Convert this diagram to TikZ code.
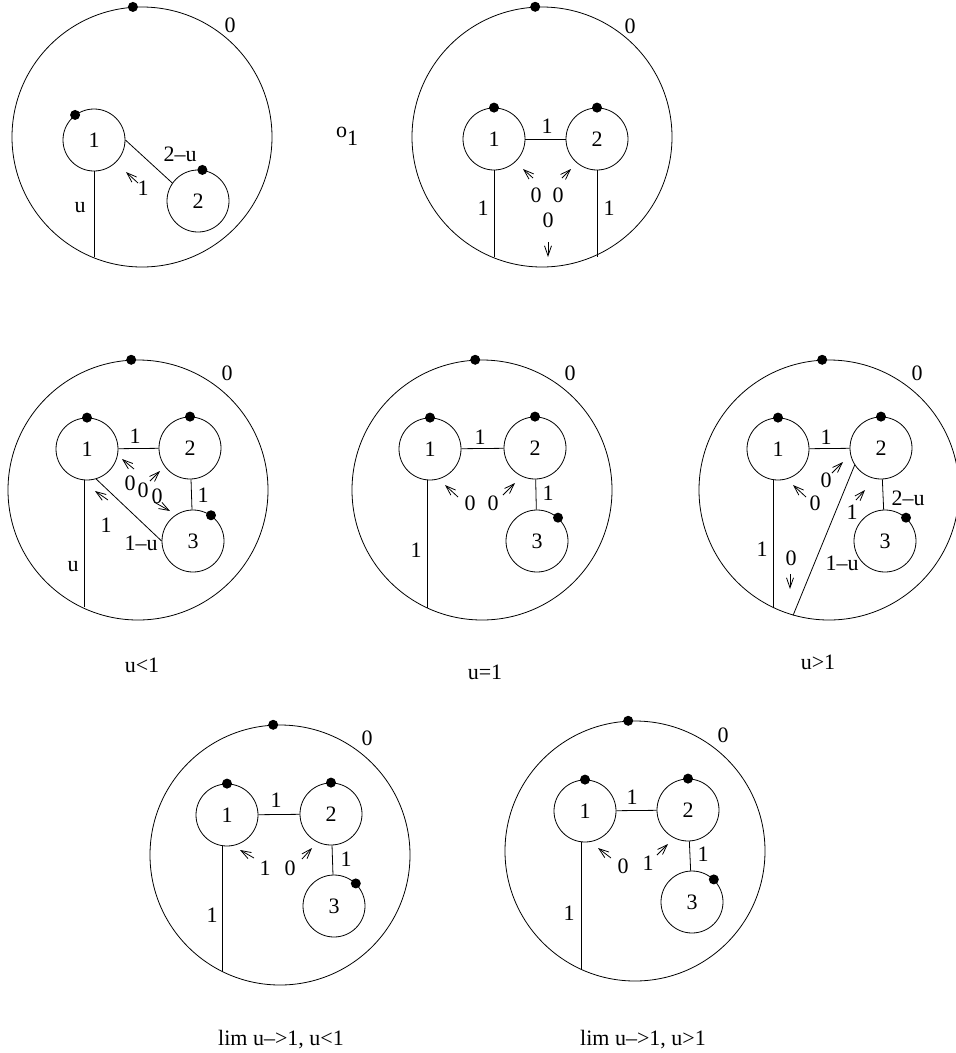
\documentclass[tikz,border=0pt]{standalone}
\usepackage{fontspec}
\setmainfont{Liberation Serif}
\usetikzlibrary{arrows.meta}
\tikzset{
  rim/.style={circle,draw,inner sep=0pt,minimum size=260pt},
  ring/.style={circle,draw,inner sep=0pt,minimum size=62pt},
  dot/.style={circle,fill,inner sep=0pt,minimum size=10pt},
  harrow/.style={-{Straight Barb[length=10pt,width=7pt]}}
}
\begin{document}
\begin{tikzpicture}[x=1pt,y=-1pt,line width=0.8pt,
  every node/.style={font=\fontsize{22}{26}\selectfont}]
			\clip (0,0) rectangle (956,1053);

			% top left
			\node (A) at (142,137)[rim]{};
			\node (A0) at (A.94)[dot]{};
			\node (Al) at (230,25){0};
			\node (a1) at (94,140)[ring]{1};
			\node (a2) at (198,201)[ring]{2};
			\node (a1d) at (a1.127)[dot]{};
			\node (a2d) at (a2.82)[dot]{};
			\draw (a1.east) -- (a2.145);
			\draw (a1.south) -- (a1.south |- A.247);
			\node (au) at (80,208){u};
			\node (a12) at (180,154){2–u};
			\node (aw) at (143,188){1};
			\draw[harrow] (aw) ++(-5,-5) -- ++(-12,-11);

			\node (o1) at (347,136){o\raisebox{-8pt}{1}};

			% top right
			\node (B) at (542,137)[rim]{};
			\node (B0) at (B.93)[dot]{};
			\node (Bl) at (630,26){0};
			\node (b1) at (494,139)[ring]{1};
			\node (b2) at (597,139)[ring]{2};
			\node (b1d) at (b1.90)[dot]{};
			\node (b2d) at (b2.90)[dot]{};
			\draw (b1) -- (b2);
			\draw (b1.south) -- (b1.south |- B.247);
			\draw (b2.south) -- (b2.south |- B.293);
			\node (b12) at (547,126){1};
			\node (bv1) at (483,208){1};
			\node (bv2) at (609,208){1};
			\node (bw1) at (536,195){0};
			\node (bw2) at (558,195){0};
			\node (bw3) at (548,220){0};
			\draw[harrow] (bw1) ++(-3,-17) -- ++(-10,-9);
			\draw[harrow] (bw2) ++(4,-17) -- ++(9,-9);
			\draw[harrow] (bw3) ++(0,22) -- ++(0,15);

			% u<1
			\node (C) at (138,490)[rim]{};
			\node (C0) at (C.93)[dot]{};
			\node (Cl) at (227,373){0};
			\node (c1) at (87,449)[ring]{1};
			\node (c2) at (190,448)[ring]{2};
			\node (c3) at (193,541)[ring]{3};
			\node (c1d) at (c1.90)[dot]{};
			\node (c2d) at (c2.90)[dot]{};
			\node (c3d) at (c3.55)[dot]{};
			\draw (c1) -- (c2);
			\draw (c2) -- (c3);
			\draw (c1.287) -- (c3.180);
			\draw (c1.265) -- (c1.265 |- C.244);
			\node (c12) at (135,436){1};
			\node (c23) at (203,495){1};
			\node (c13) at (141,543){1–u};
			\node (cu) at (73,567){u};
			\node (cw1) at (130,483){0};
			\node (cw2) at (143,490){0};
			\node (cw3) at (157,496){0};
			\node (cw4) at (106,525){1};
			\draw[harrow] (cw1) ++(4,-14) -- ++(-12,-10);
			\draw[harrow] (cw2) ++(7,-9) -- ++(10,-10);
			\draw[harrow] (cw3) ++(-3,6) -- ++(16,9);
			\draw[harrow] (cw4) ++(2,-25) -- ++(-13,-9);
			\node (cc) at (142,665){u<1};

			% u=1
			\node (D) at (482,490)[rim]{};
			\node (D0) at (D.93)[dot]{};
			\node (Dl) at (570,373){0};
			\node (d1) at (430,449)[ring]{1};
			\node (d2) at (535,448)[ring]{2};
			\node (d3) at (537,541)[ring]{3};
			\node (d1d) at (d1.90)[dot]{};
			\node (d2d) at (d2.90)[dot]{};
			\node (d3d) at (d3.48)[dot]{};
			\draw (d1) -- (d2);
			\draw (d2) -- (d3);
			\draw (d1.265) -- (d1.265 |- D.245);
			\node (d12) at (480,437){1};
			\node (d23) at (548,493){1};
			\node (dv) at (416,550){1};
			\node (dw1) at (470,503){0};
			\node (dw2) at (493,503){0};
			\draw[harrow] (dw1) ++(-12,-6) -- ++(-13,-12);
			\draw[harrow] (dw2) ++(10,-8) -- ++(12,-12);
			\node (dc) at (485,672){u=1};

			% u>1
			\node (E) at (829,490)[rim]{};
			\node (E0) at (E.93)[dot]{};
			\node (El) at (917,373){0};
			\node (e1) at (778,449)[ring]{1};
			\node (e2) at (881,448)[ring]{2};
			\node (e3) at (885,541)[ring]{3};
			\node (e1d) at (e1.90)[dot]{};
			\node (e2d) at (e2.90)[dot]{};
			\node (e3d) at (e3.48)[dot]{};
			\draw (e1) -- (e2);
			\draw (e2) -- (e3);
			\draw (e1.262) -- (e1.262 |- E.245);
			\draw (e2.213) -- (E.254);
			\node (e12) at (826,437){1};
			\node (e23) at (908,498){2–u};
			\node (ev) at (762,549){1};
			\node (e13) at (842,563){1–u};
			\node (ew1) at (815,503){0};
			\node (ew2) at (826,480){0};
			\node (ew3) at (852,512){1};
			\node (ew4) at (791,558){0};
			\draw[harrow] (ew1) ++(-9,-6) -- ++(-13,-12);
			\draw[harrow] (ew2) ++(6,-7) -- ++(11,-11);
			\draw[harrow] (ew3) ++(4,-12) -- ++(9,-10);
			\draw[harrow] (ew4) ++(-1,16) -- ++(0,15);
			\node (ec) at (818,662){u>1};

			% lim u->1, u<1
			\node (F) at (280,855)[rim]{};
			\node (F0) at (F.93)[dot]{};
			\node (Fl) at (367,738){0};
			\node (f1) at (227,815)[ring]{1};
			\node (f2) at (331,814)[ring]{2};
			\node (f3) at (334,906)[ring]{3};
			\node (f1d) at (f1.90)[dot]{};
			\node (f2d) at (f2.90)[dot]{};
			\node (f3d) at (f3.46)[dot]{};
			\draw (f1) -- (f2);
			\draw (f2) -- (f3);
			\draw (f1.262) -- (f1.262 |- F.244);
			\node (f12) at (276,800){1};
			\node (f23) at (346,859){1};
			\node (fv) at (212,915){1};
			\node (fw1) at (265,868){1};
			\node (fw2) at (290,868){0};
			\draw[harrow] (fw1) ++(-11,-10) -- ++(-14,-8);
			\draw[harrow] (fw2) ++(12,-9) -- ++(10,-11);
			\node (fc) at (281,1040){lim u–>1, u<1};

			% lim u->1, u>1
			\node (G) at (635,851)[rim]{};
			\node (G0) at (G.93)[dot]{};
			\node (Gl) at (723,735){0};
			\node (g1) at (585,811)[ring]{1};
			\node (g2) at (688,810)[ring]{2};
			\node (g3) at (692,902)[ring]{3};
			\node (g1d) at (g1.90)[dot]{};
			\node (g2d) at (g2.90)[dot]{};
			\node (g3d) at (g3.46)[dot]{};
			\draw (g1) -- (g2);
			\draw (g2) -- (g3);
			\draw (g1.264) -- (g1.264 |- G.246);
			\node (g12) at (632,797){1};
			\node (g23) at (703,854){1};
			\node (gv) at (569,913){1};
			\node (gw1) at (623,866){0};
			\node (gw2) at (648,863){1};
			\draw[harrow] (gw1) ++(-12,-8) -- ++(-13,-10);
			\draw[harrow] (gw2) ++(9,-8) -- ++(11,-11);
			\node (gc) at (643,1040){lim u–>1, u>1};
		\end{tikzpicture}
\end{document}
